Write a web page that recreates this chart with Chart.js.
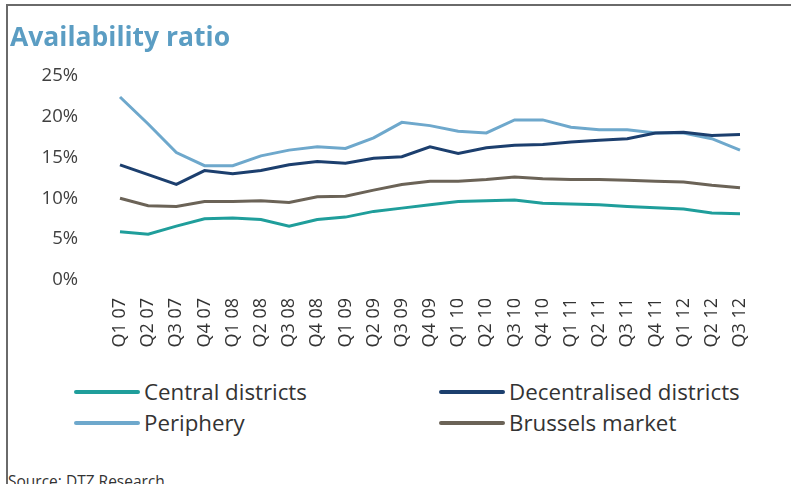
<!DOCTYPE html>
<html>
<head>
<meta charset="utf-8">
<script src="https://cdn.jsdelivr.net/npm/chart.js@4.4.1/dist/chart.umd.min.js"></script>
<style>
  body { margin: 0; background: #fff; font-family: "Open Sans", sans-serif; }
  #wrap { position: relative; width: 791px; height: 484px; overflow: hidden; }
  #frame { position: absolute; left: 6px; top: 4px; width: 790px; height: 490px;
           border-top: 2px solid #6a6a6a; border-left: 2px solid #6a6a6a; }
  #chart { position: absolute; left: 0; top: 0; }
  .leg { position: absolute; font-size: 22.3px; line-height: 30px; color: #333; white-space: nowrap; }
  .leg span.ln { position: absolute; left: 0; top: 13px; width: 66px; height: 4px; border-radius: 2px; }
  .leg span.tx { position: absolute; left: 70px; top: 0; }
  #source { position: absolute; left: 8px; top: 470px; font-size: 15.5px; color: #333; }
</style>
</head>
<body>
<div id="wrap">
  <div id="frame"></div>
  <canvas id="chart" width="791" height="365"></canvas>
  <div id="legend"></div>
  <div id="source">Source: DTZ Research</div>
</div>
<script>
// ============================================================================
// DATA
// ============================================================================

const quarters = [
    'Q1 07', 'Q2 07', 'Q3 07', 'Q4 07',
    'Q1 08', 'Q2 08', 'Q3 08', 'Q4 08',
    'Q1 09', 'Q2 09', 'Q3 09', 'Q4 09',
    'Q1 10', 'Q2 10', 'Q3 10', 'Q4 10',
    'Q1 11', 'Q2 11', 'Q3 11', 'Q4 11',
    'Q1 12', 'Q2 12', 'Q3 12'
];

const central = [5.9, 5.6, 6.6, 7.5, 7.6, 7.4, 6.6, 7.4, 7.7, 8.4, 8.8, 9.2,
                 9.6, 9.7, 9.8, 9.4, 9.3, 9.2, 9.0, 8.85, 8.7, 8.2, 8.1];
const decentralised = [14.1, 12.9, 11.7, 13.4, 13.0, 13.4, 14.1, 14.5, 14.3, 14.9, 15.1, 16.3,
                       15.5, 16.2, 16.5, 16.6, 16.9, 17.1, 17.3, 18.0, 18.1, 17.7, 17.8];
const periphery = [22.4, 19.1, 15.6, 14.0, 14.0, 15.2, 15.9, 16.3, 16.1, 17.4, 19.3, 18.9,
                   18.2, 18.0, 19.6, 19.6, 18.7, 18.4, 18.4, 18.0, 18.0, 17.3, 15.9];
const brussels = [10.0, 9.1, 9.0, 9.6, 9.6, 9.7, 9.5, 10.2, 10.25, 11.0, 11.7, 12.1,
                  12.1, 12.3, 12.6, 12.4, 12.3, 12.3, 12.2, 12.1, 12.0, 11.6, 11.3];

const yTicks = [0, 5, 10, 15, 20, 25];

const seriesNames = ['Central districts', 'Decentralised districts', 'Periphery', 'Brussels market'];
const seriesColors = ['#1f9e9b', '#1c3f6e', '#6ea8cc', '#6b6357'];
const seriesData = [central, decentralised, periphery, brussels];

// ============================================================================
// CHART
// ============================================================================

const ctx = document.getElementById('chart');

new Chart(ctx, {
    type: 'line',
    data: {
        labels: quarters,
        datasets: seriesNames.map((name, i) => ({
            label: name,
            data: seriesData[i],
            borderColor: seriesColors[i],
            backgroundColor: seriesColors[i],
            borderWidth: 3,
            pointRadius: 0,
            tension: 0
        }))
    },
    options: {
        responsive: false,
        animation: false,
        layout: {
            padding: { top: 23, left: 10, right: 51, bottom: 0 }
        },
        plugins: {
            legend: { display: false },
            tooltip: { enabled: false },
            title: {
                display: true,
                text: 'Availability ratio',
                align: 'start',
                color: '#5b9dc3',
                font: { family: 'Open Sans', size: 26.5, weight: 'bold' },
                padding: { top: 0, bottom: 21 }
            }
        },
        scales: {
            x: {
                grid: { display: false },
                border: { display: false },
                ticks: {
                    autoSkip: false,
                    maxRotation: 90,
                    minRotation: 90,
                    padding: 10,
                    color: '#333',
                    font: { family: 'Open Sans', size: 18 }
                },
                afterFit: function(scale) { scale.height = 85; }
            },
            y: {
                min: 0,
                max: 25,
                grid: { display: false, drawTicks: false },
                border: { display: false },
                afterBuildTicks: function(scale) {
                    scale.ticks = yTicks.map(v => ({ value: v }));
                },
                ticks: {
                    padding: 42,
                    color: '#404040',
                    font: { family: 'Open Sans', size: 18.5 },
                    callback: v => v + '%'
                },
                afterFit: function(scale) { scale.width = 110; }
            }
        }
    }
});

// ============================================================================
// LEGEND (two columns, like the source)
// ============================================================================

const legendPos = [[74, 377], [439, 377], [74, 408], [439, 408]];
const $legend = document.getElementById('legend');
seriesNames.forEach((name, k) => {
    const item = document.createElement('div');
    item.className = 'leg';
    item.style.left = legendPos[k][0] + 'px';
    item.style.top = legendPos[k][1] + 'px';
    item.innerHTML = '<span class="ln" style="background:' + seriesColors[k] + '"></span>' +
                     '<span class="tx">' + name + '</span>';
    $legend.appendChild(item);
});
</script>
</body>
</html>
